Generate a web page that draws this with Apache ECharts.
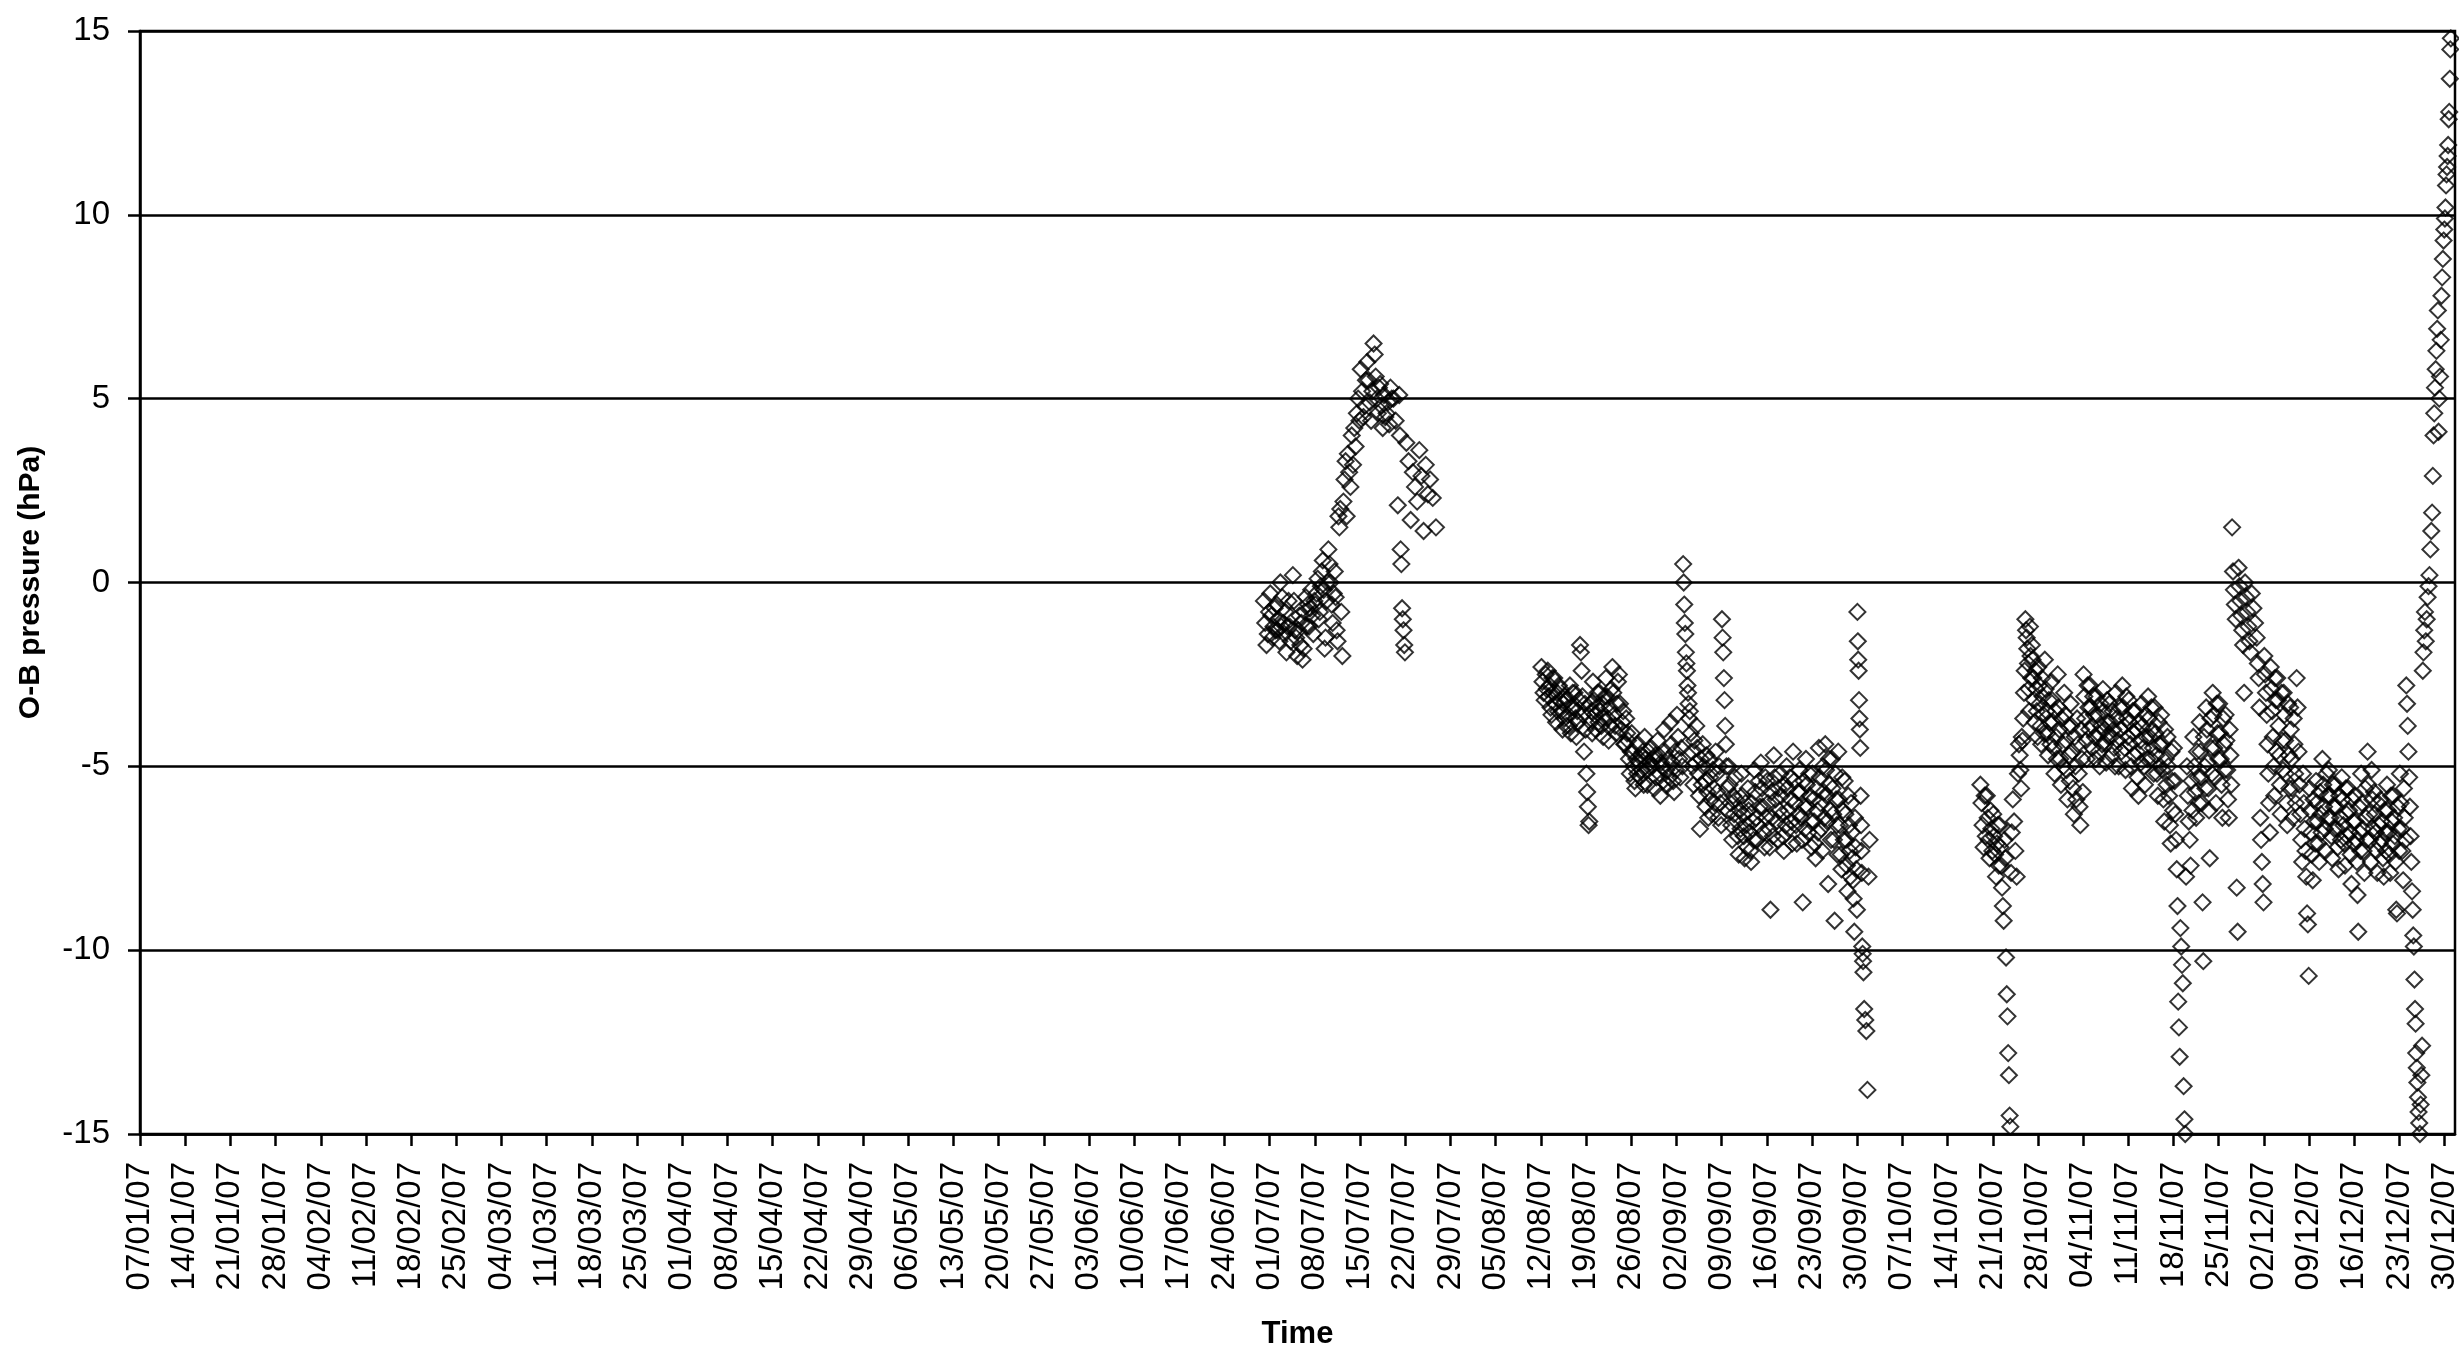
<!DOCTYPE html>
<html>
<head>
<meta charset="utf-8">
<title>O-B pressure</title>
<script src="https://cdn.jsdelivr.net/npm/echarts@6/dist/echarts.min.js"></script>
<style>
  html, body { margin: 0; padding: 0; background: #fff; }
  #chart-container { width: 2459px; height: 1347px; }
</style>
</head>
<body>
<div id="chart-container"></div>
<script>
// Observations per day: ['MM-DD', [values in hPa]]
const julyObs = [
    ['06-30', [-0.5, -1.1, -1.7, -1.4, -0.8]],
    ['07-01', [-0.3, -0.9, -1.5, -1.2, -0.7, -1.3]],
    ['07-02', [-0.6, -1.3, -1.0, -1.6, 0.0, -1.2, -0.4]],
    ['07-03', [-1.1, -1.4, -0.8, -1.9, -1.2, -0.5]],
    ['07-04', [-1.2, -1.6, -0.9, 0.2, -0.5, -1.3]],
    ['07-05', [-1.5, -2.0, -1.3, -0.9, -1.7, -1.1]],
    ['07-06', [-2.1, -1.8, -0.8, -0.4, -1.2, -0.6]],
    ['07-07', [-1.2, -0.7, -0.2, -0.9, -1.4, -0.5]],
    ['07-08', [-0.6, -0.3, 0.1, -1.0, -0.8, -0.1]],
    ['07-09', [0.3, 0.6, -0.2, -1.8, -1.5, -0.5, 0.0]],
    ['07-10', [0.9, 0.5, 0.0, -0.6, -1.1, -0.3]],
    ['07-11', [0.3, -0.4, -1.3, -1.6, 1.8, 1.5, 2.0]],
    ['07-12', [-0.8, -2.0, 2.2, 2.8, 3.3, 1.8]],
    ['07-13', [3.5, 3.0, 2.6, 4.0, 3.2]],
    ['07-14', [4.2, 3.7, 4.6, 5.0, 4.4]],
    ['07-15', [5.8, 5.2, 4.5, 4.8, 5.5]],
    ['07-16', [6.0, 5.5, 4.9, 4.4, 5.2]],
    ['07-17', [6.5, 6.2, 5.6, 5.0, 4.6, 5.3]],
    ['07-18', [5.4, 4.8, 4.2, 5.1, 4.5]],
    ['07-19', [4.6, 4.9, 4.3, 5.3, 5.0]],
    ['07-20', [5.0, 4.4, 2.1]],
    ['07-21', [5.1, 4.0, 0.9, 0.5, -0.7, -1.0, -1.3, -1.7, -1.9]],
    ['07-22', [3.8, 3.3, 1.7]],
    ['07-23', [3.0, 2.6, 2.2]],
    ['07-24', [3.6, 2.9, 1.4]],
    ['07-25', [3.2, 2.4, 2.8]],
    ['07-26', [2.3, 1.5]]
];

const augSepObs = [
    ['08-12', [-2.3, -2.7, -3.0, -3.2, -2.5, -2.9]],
    ['08-13', [-2.4, -3.1, -2.8, -3.4, -3.6, -2.6, -3.0]],
    ['08-14', [-2.6, -3.3, -3.8, -3.0, -3.5, -2.8, -3.2]],
    ['08-15', [-2.9, -3.5, -4.0, -3.3, -3.7, -3.1, -3.9]],
    ['08-16', [-3.2, -3.6, -3.9, -2.8, -4.1, -3.4, -3.0]],
    ['08-17', [-3.4, -3.0, -3.7, -4.2, -3.5, -3.8, -3.2]],
    ['08-18', [-1.7, -1.9, -2.4, -3.1, -3.6, -4.6, -3.3, -4.0]],
    ['08-19', [-5.2, -5.7, -6.1, -6.6, -6.5, -3.3, -3.8, -3.5, -4.1]],
    ['08-20', [-2.7, -3.2, -3.6, -4.0, -3.4, -3.0, -3.8]],
    ['08-21', [-3.0, -3.5, -3.9, -3.3, -4.2, -3.7, -3.1]],
    ['08-22', [-2.6, -3.1, -3.7, -4.3, -3.4, -3.9, -2.9]],
    ['08-23', [-2.3, -3.0, -3.6, -3.9, -4.1, -3.3, -2.7]],
    ['08-24', [-2.5, -3.3, -4.0, -3.8, -3.5, -4.4]],
    ['08-25', [-4.4, -3.7, -4.1, -4.3, -4.8, -5.2, -4.6]],
    ['08-26', [-4.1, -4.6, -5.0, -5.4, -5.6, -4.8, -5.2]],
    ['08-27', [-4.4, -4.9, -5.3, -4.7, -5.1, -4.6, -5.5]],
    ['08-28', [-4.2, -4.8, -5.1, -5.5, -4.6, -5.0, -4.9]],
    ['08-29', [-4.5, -5.0, -4.8, -5.6, -4.7, -5.3]],
    ['08-30', [-4.3, -4.7, -5.2, -5.8, -4.9, -5.0, -5.4]],
    ['08-31', [-4.0, -4.6, -5.1, -5.5, -4.8, -5.3]],
    ['09-01', [-3.8, -4.4, -4.9, -5.4, -5.7, -4.6, -5.1]],
    ['09-02', [-3.6, -4.2, -4.8, -5.3, -4.5, -5.0]],
    ['09-03', [0.5, 0.0, -0.6, -1.1, -1.4, -1.9, -2.2, -2.4, -2.8, -3.0, -3.3, -3.7]],
    ['09-04', [-3.5, -4.1, -4.6, -5.0, -5.5, -4.3, -4.9]],
    ['09-05', [-3.9, -4.5, -5.2, -5.8, -6.7, -4.8, -5.5]],
    ['09-06', [-4.4, -5.0, -5.4, -6.1, -4.7, -5.7, -6.4]],
    ['09-07', [-4.8, -5.3, -5.9, -6.3, -5.1, -5.6, -6.0]],
    ['09-08', [-4.6, -5.2, -5.7, -6.4, -5.0, -6.0, -6.6]],
    ['09-09', [-1.0, -1.5, -1.9, -2.6, -3.2, -3.9, -4.4, -5.0, -5.6, -6.2]],
    ['09-10', [-5.0, -5.5, -6.0, -6.6, -7.0, -5.8, -6.3]],
    ['09-11', [-5.3, -5.9, -6.5, -6.9, -7.4, -6.2, -6.7]],
    ['09-12', [-5.2, -5.8, -6.3, -6.9, -7.5, -6.0, -6.6, -7.2]],
    ['09-13', [-5.6, -6.2, -6.8, -7.3, -7.6, -6.0, -6.5, -7.0]],
    ['09-14', [-5.1, -5.7, -6.4, -7.0, -6.6, -5.4, -6.1]],
    ['09-15', [-4.9, -5.6, -6.1, -6.8, -7.2, -5.3, -6.4]],
    ['09-16', [-5.4, -6.0, -6.7, -7.2, -8.9, -5.7, -6.4, -6.9]],
    ['09-17', [-4.7, -5.3, -5.9, -6.5, -7.0, -5.6, -6.2]],
    ['09-18', [-5.2, -5.8, -6.3, -6.9, -7.3, -5.5, -6.6]],
    ['09-19', [-5.0, -5.6, -6.2, -6.7, -5.3, -5.9, -6.5, -7.1]],
    ['09-20', [-4.6, -5.4, -6.0, -6.6, -7.1, -5.7, -6.3]],
    ['09-21', [-5.1, -5.7, -6.4, -7.0, -8.7, -5.4, -6.1, -6.7]],
    ['09-22', [-4.8, -5.5, -6.1, -6.8, -5.2, -5.8, -6.5, -7.2]],
    ['09-23', [-5.2, -5.9, -6.5, -7.1, -7.5, -5.6, -6.2, -6.8]],
    ['09-24', [-4.5, -5.3, -6.0, -6.7, -7.3, -5.0, -5.7, -6.4]],
    ['09-25', [-4.4, -5.1, -5.8, -6.5, -8.2, -4.8, -5.5, -6.2, -7.0]],
    ['09-26', [-4.8, -5.6, -6.3, -7.0, -9.2, -5.2, -5.9, -6.6, -7.4]],
    ['09-27', [-4.6, -5.9, -6.6, -7.4, -7.8, -5.3, -6.2, -7.0]],
    ['09-28', [-5.4, -6.3, -7.0, -7.7, -8.4, -5.8, -6.6, -7.3, -8.0]],
    ['09-29', [-6.0, -6.8, -7.5, -8.1, -8.6, -9.5, -6.4, -7.2, -7.8, -8.9]],
    ['09-30', [-0.8, -1.6, -2.1, -2.4, -3.2, -3.7, -4.0, -4.5, -5.8, -6.6, -7.3, -7.9, -9.9, -10.1, -10.3, -10.6]],
    ['10-01', [-11.6, -11.9, -12.2, -13.8, -8.0, -7.0]]
];

const octDecObs = [
    ['10-19', [-5.5, -6.0, -6.6, -7.2, -5.8, -6.9]],
    ['10-20', [-5.8, -6.4, -7.0, -7.5, -6.2, -6.7, -7.3]],
    ['10-21', [-6.3, -6.9, -7.4, -8.0, -7.1, -6.6, -7.7]],
    ['10-22', [-6.6, -7.2, -7.7, -8.3, -8.8, -9.2, -7.0, -7.5]],
    ['10-23', [-10.2, -11.2, -11.8, -12.8, -13.4, -14.5, -14.8, -7.9, -6.8]],
    ['10-24', [-5.9, -6.5, -7.3, -8.0, -5.2]],
    ['10-25', [-4.4, -4.7, -5.1, -5.6, -4.2, -4.3, -3.7, -3.0, -2.4]],
    ['10-26', [-1.0, -1.3, -1.5, -1.8, -2.2, -2.9, -3.5, -1.2, -2.0, -2.6]],
    ['10-27', [-1.7, -2.1, -2.6, -3.2, -3.8, -2.4, -2.9, -3.5, -4.2]],
    ['10-28', [-2.3, -2.8, -3.3, -3.9, -4.4, -2.6, -3.1, -3.6, -4.1]],
    ['10-29', [-2.1, -2.9, -3.5, -4.1, -4.7, -3.2, -3.8, -4.4]],
    ['10-30', [-2.7, -3.2, -3.8, -4.5, -5.2, -3.5, -4.2, -4.8]],
    ['10-31', [-2.5, -3.4, -4.0, -4.8, -5.5, -3.7, -4.4, -5.0]],
    ['11-01', [-3.0, -3.6, -4.3, -5.1, -5.9, -3.9, -4.7, -5.4]],
    ['11-02', [-3.3, -3.9, -4.6, -5.6, -6.3, -4.2, -5.0, -5.9]],
    ['11-03', [-3.7, -4.4, -5.2, -6.1, -6.6, -4.0, -4.8, -5.7]],
    ['11-04', [-2.5, -3.1, -3.7, -4.3, -4.8, -2.8, -3.4, -4.0]],
    ['11-05', [-2.8, -3.4, -3.9, -4.5, -3.1, -3.6, -4.2, -4.8]],
    ['11-06', [-3.1, -3.6, -4.1, -4.6, -5.0, -3.3, -3.9, -4.4]],
    ['11-07', [-2.9, -3.5, -4.0, -4.4, -4.9, -3.2, -3.8, -4.2]],
    ['11-08', [-3.3, -3.8, -4.2, -4.7, -3.5, -4.0, -4.5, -5.0]],
    ['11-09', [-3.0, -3.7, -4.3, -5.0, -3.4, -4.0, -4.6]],
    ['11-10', [-2.8, -3.4, -3.9, -4.5, -5.1, -3.1, -3.7, -4.2]],
    ['11-11', [-3.2, -3.8, -4.4, -5.0, -5.6, -3.5, -4.1, -4.7]],
    ['11-12', [-3.5, -4.0, -4.6, -5.3, -5.8, -3.8, -4.3, -4.9]],
    ['11-13', [-3.3, -3.9, -4.5, -5.0, -5.5, -3.6, -4.2, -4.8]],
    ['11-14', [-3.1, -3.7, -4.2, -4.8, -3.4, -4.0, -4.5, -5.2]],
    ['11-15', [-3.4, -4.1, -4.7, -5.2, -5.8, -3.8, -4.4, -5.0]],
    ['11-16', [-3.6, -4.4, -5.1, -5.9, -6.5, -4.0, -4.8, -5.5]],
    ['11-17', [-4.2, -5.0, -5.8, -6.6, -7.1, -4.6, -5.4, -6.2]],
    ['11-18', [-4.5, -5.4, -6.3, -7.0, -7.8, -8.8, -11.4, -12.1, -12.9]],
    ['11-19', [-9.4, -9.9, -10.4, -10.9, -13.7, -14.6, -15.0, -8.0]],
    ['11-20', [-5.0, -5.8, -6.5, -7.0, -7.7, -5.4, -6.2]],
    ['11-21', [-4.2, -5.0, -5.7, -6.4, -4.6, -5.3, -6.0]],
    ['11-22', [-3.8, -4.6, -5.3, -6.0, -8.7, -10.3, -4.2, -5.0, -5.6]],
    ['11-23', [-3.4, -4.0, -4.9, -5.6, -6.2, -7.5, -3.7, -4.5, -5.2]],
    ['11-24', [-3.0, -3.6, -4.5, -5.3, -6.0, -3.3, -4.1, -4.8]],
    ['11-25', [-3.3, -4.1, -4.8, -5.5, -6.4, -3.7, -4.4, -5.1]],
    ['11-26', [-3.6, -4.3, -5.1, -5.9, -6.4, -4.0, -4.7, -5.5]],
    ['11-27', [1.5, 0.3, -0.2, -0.6, -1.0, -8.3, -9.5]],
    ['11-28', [0.4, -0.1, -0.5, -0.9, -1.3, -1.7, -3.0]],
    ['11-29', [0.0, -0.4, -0.8, -1.2, -1.6, -1.9]],
    ['11-30', [-0.3, -0.7, -1.1, -1.5]],
    ['12-01', [-2.2, -2.6, -3.4, -6.4, -7.0, -7.6, -8.2, -8.7]],
    ['12-02', [-2.0, -2.5, -3.0, -3.6, -4.4, -5.2, -6.0, -6.8]],
    ['12-03', [-2.3, -2.9, -3.5, -4.2, -5.0, -5.8, -2.6, -3.2, -4.6]],
    ['12-04', [-2.6, -3.2, -3.9, -4.7, -5.5, -6.3, -3.0, -4.3, -5.1]],
    ['12-05', [-3.0, -3.6, -4.3, -5.2, -6.0, -6.6, -3.3, -4.7, -5.6]],
    ['12-06', [-3.4, -4.0, -4.8, -5.6, -6.4, -3.7, -4.4, -5.2, -6.0]],
    ['12-07', [-2.6, -3.4, -4.6, -5.5, -6.3, -7.0, -7.6]],
    ['12-08', [-5.2, -6.0, -6.7, -7.3, -8.0, -9.0, -9.3, -10.7]],
    ['12-09', [-5.6, -6.2, -6.8, -7.4, -8.1, -5.9, -6.5, -7.1]],
    ['12-10', [-5.4, -6.0, -6.5, -7.1, -7.6, -5.7, -6.3, -6.8]],
    ['12-11', [-4.8, -5.5, -6.1, -6.7, -7.3, -5.2, -5.8, -6.4]],
    ['12-12', [-5.1, -5.8, -6.4, -6.9, -7.5, -5.5, -6.1, -6.7]],
    ['12-13', [-5.5, -6.1, -6.7, -7.2, -7.8, -5.8, -6.4, -7.0]],
    ['12-14', [-5.3, -5.9, -6.6, -7.1, -7.7, -5.6, -6.3, -6.9]],
    ['12-15', [-5.6, -6.2, -6.8, -7.4, -8.2, -5.9, -6.5, -7.1]],
    ['12-16', [-5.8, -6.5, -7.0, -7.6, -8.5, -9.5, -6.1, -6.8, -7.3]],
    ['12-17', [-5.2, -6.0, -6.7, -7.3, -7.9, -5.6, -6.4, -7.0]],
    ['12-18', [-4.6, -5.5, -6.3, -7.0, -7.6, -5.1, -5.9, -6.7]],
    ['12-19', [-5.7, -6.3, -6.8, -7.3, -7.9, -6.0, -6.6, -7.1]],
    ['12-20', [-5.9, -6.5, -7.0, -7.5, -8.0, -6.2, -6.8, -7.3]],
    ['12-21', [-5.5, -6.2, -6.8, -7.4, -7.9, -5.8, -6.5, -7.1]],
    ['12-22', [-5.8, -6.4, -6.9, -7.6, -8.9, -9.0, -6.1, -6.7, -7.3]],
    ['12-23', [-5.2, -6.0, -6.7, -7.3, -8.1, -5.6, -6.4, -7.0]],
    ['12-24', [-2.8, -3.3, -3.9, -4.6, -5.3, -6.1, -6.9, -7.6, -8.4]],
    ['12-25', [-8.9, -9.6, -9.9, -10.8, -11.6, -12.0, -12.8, -13.2, -13.6, -14.0, -14.4]],
    ['12-26', [-14.7, -15.0, -14.2, -13.4, -12.6, -2.4, -1.9, -1.3, -0.8]],
    ['12-27', [-1.6, -1.0, -0.4, -0.1, 0.2, 0.9, 1.4]],
    ['12-28', [1.9, 2.9, 4.0, 4.6, 5.3, 5.8, 6.3, 6.9, 7.4]],
    ['12-29', [4.1, 5.0, 5.6, 6.6, 7.8, 8.3, 8.8, 9.3, 9.6]],
    ['12-30', [9.9, 10.2, 10.8, 11.1, 11.3, 11.6, 11.9, 12.6, 12.8, 13.7, 14.5, 14.8]]
];

// Axis: days counted from the first tick, 07/01/07
const axisStart = Date.UTC(2007, 0, 7);
const axisEndDays = 358.6;
const yTicks = [-15, -10, -5, 0, 5, 10, 15];
const tickDays = [];
for (let d = 0; d <= 357; d += 7) tickDays.push(d);

const fontFamily = '"Liberation Sans", Arial, sans-serif';

function dayOf(md) {
    const [m, d] = md.split('-').map(Number);
    return (Date.UTC(2007, m - 1, d) - axisStart) / 86400000;
}

function pad(n) {
    return (n < 10 ? '0' : '') + n;
}

function fmtDate(v) {
    const dt = new Date(axisStart + Math.round(v) * 86400000);
    return pad(dt.getUTCDate()) + '/' + pad(dt.getUTCMonth() + 1) + '/' + String(dt.getUTCFullYear()).slice(2);
}

// Spread each day's observations over that day
const points = [];
[julyObs, augSepObs, octDecObs].forEach(block => {
    block.forEach(([md, vals]) => {
        const day = dayOf(md);
        vals.forEach((v, i) => points.push([day + (i + 0.5) / vals.length, v]));
    });
});

const chart = echarts.init(document.getElementById('chart-container'), null, { renderer: 'canvas' });

const lineStyle = { color: '#000', width: 2.5 };

chart.setOption({
    animation: false,
    backgroundColor: '#fff',
    grid: {
        left: 140, right: 4, top: 31, bottom: 213,
        containLabel: false,
        outerBoundsMode: 'none',
        show: true, borderColor: '#000', borderWidth: 2.5
    },
    xAxis: {
        type: 'value',
        min: 0,
        max: axisEndDays,
        interval: 7,
        name: 'Time',
        nameLocation: 'middle',
        nameGap: 185,
        nameTextStyle: { fontFamily: fontFamily, fontSize: 31, fontWeight: 'bold', color: '#000' },
        axisLine: { onZero: false, lineStyle: lineStyle },
        axisTick: { show: true, length: 12, lineStyle: lineStyle, customValues: tickDays },
        axisLabel: {
            rotate: 90, margin: 28, fontSize: 33, color: '#000', fontFamily: fontFamily,
            customValues: tickDays, formatter: fmtDate
        },
        splitLine: { show: false }
    },
    yAxis: {
        type: 'value',
        min: yTicks[0],
        max: yTicks[yTicks.length - 1],
        interval: 5,
        name: 'O-B pressure (hPa)',
        nameLocation: 'middle',
        nameGap: 94,
        nameRotate: 90,
        nameTextStyle: { fontFamily: fontFamily, fontSize: 30, fontWeight: 'bold', color: '#000' },
        axisLine: { show: true, onZero: false, lineStyle: lineStyle },
        axisTick: { show: true, length: 12, lineStyle: lineStyle },
        axisLabel: { margin: 30, fontSize: 33, color: '#000', fontFamily: fontFamily },
        splitLine: { show: true, lineStyle: lineStyle }
    },
    series: [{
        name: 'O-B',
        type: 'scatter',
        symbol: 'diamond',
        symbolSize: 16,
        clip: true,
        data: points,
        itemStyle: { color: 'rgba(0,0,0,0)', borderColor: '#000', borderWidth: 2 }
    }]
});
</script>
</body>
</html>
